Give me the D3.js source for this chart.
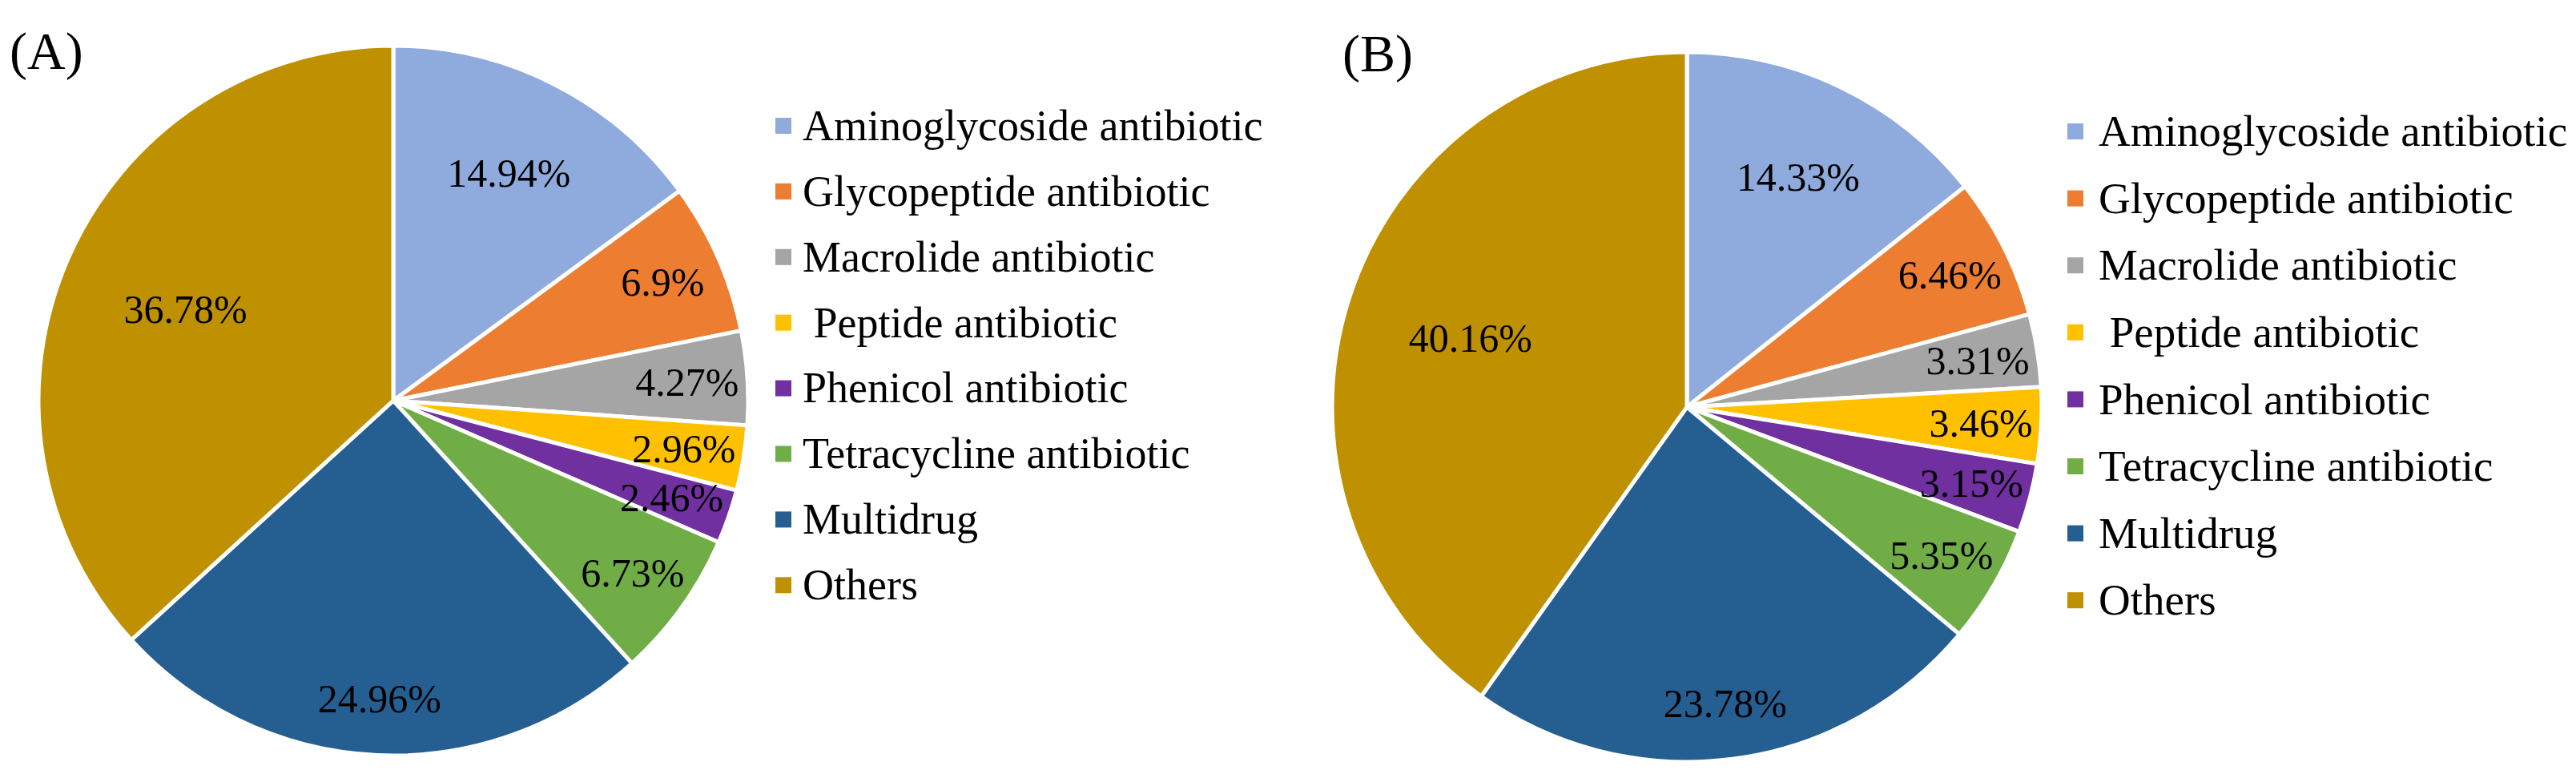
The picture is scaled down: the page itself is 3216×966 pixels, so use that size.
<!DOCTYPE html>
<html>
<head>
<meta charset="utf-8">
<script src="https://cdn.jsdelivr.net/npm/d3@7"></script>
<style>
  body { margin: 0; background: #fff; }
</style>
</head>
<body>
<div id="chart"></div>
<script>
// Categories (legend order = slice order, clockwise from 12 o'clock)
const categories = [
    "Aminoglycoside antibiotic",
    "Glycopeptide antibiotic",
    "Macrolide antibiotic",
    " Peptide antibiotic",
    "Phenicol antibiotic",
    "Tetracycline antibiotic",
    "Multidrug",
    "Others"
];

// Percentages for panel (A) and (B)
const valuesA = [14.94, 6.9, 4.27, 2.96, 2.46, 6.73, 24.96, 36.78];
const valuesB = [14.33, 6.46, 3.31, 3.46, 3.15, 5.35, 23.78, 40.16];

const panelTitles = ["(A)", "(B)"];

const colors = ["#8faadc", "#ed7d31", "#a5a5a5", "#ffc000", "#7030a0", "#70ad47", "#255e91", "#bf9000"];

const width = 3216, height = 966;
const serif = "'Liberation Serif', 'Times New Roman', serif";

const svg = d3.select("#chart")
    .append("svg")
    .attr("width", width)
    .attr("height", height);

svg.append("rect").attr("width", width).attr("height", height).attr("fill", "#fff");

const color = d3.scaleOrdinal().domain(categories).range(colors);

// layout per panel
const panels = [
    { values: valuesA, title: panelTitles[0], cx: 491, cy: 500, r: 443, titleX: 12, titleY: 86, legX: 968, legY: 157, legStep: 81.9, textX: 34 },
    { values: valuesB, title: panelTitles[1], cx: 2106, cy: 508, r: 443, titleX: 1676, titleY: 89, legX: 2581, legY: 164, legStep: 83.6, textX: 39 }
];

// Excel-like label placement: smaller slices get labels near the rim
function labelFactor(v) {
    if (v < 10) return 0.83;
    if (v < 20) return 0.72;
    if (v < 30) return 0.84;
    return 0.64;
}

const pie = d3.pie().sort(null).value(d => d.value);

panels.forEach(p => {
    const data = categories.map((c, i) => ({ cat: c, value: p.values[i] }));
    const arcs = pie(data);

    const g = svg.append("g").attr("transform", `translate(${p.cx},${p.cy})`);

    const arc = d3.arc().innerRadius(0).outerRadius(p.r);

    g.selectAll("path")
        .data(arcs)
        .enter().append("path")
        .attr("d", arc)
        .attr("fill", d => color(d.data.cat))
        .attr("stroke", "#fff")
        .attr("stroke-width", 5)
        .attr("stroke-linejoin", "round");

    g.selectAll("text.pct")
        .data(arcs)
        .enter().append("text")
        .attr("class", "pct")
        .attr("transform", d => {
            const lr = p.r * labelFactor(d.data.value);
            const c = d3.arc().innerRadius(lr).outerRadius(lr).centroid(d);
            return `translate(${c[0]},${c[1]})`;
        })
        .attr("text-anchor", "middle")
        .attr("dy", "0.35em")
        .attr("font-family", serif)
        .attr("font-size", 50)
        .attr("fill", "#000")
        .text(d => d.data.value + "%");

    svg.append("text")
        .attr("x", p.titleX)
        .attr("y", p.titleY)
        .attr("font-family", serif)
        .attr("font-size", 66)
        .attr("fill", "#000")
        .text(p.title);

    // legend
    const legendY = d3.scalePoint()
        .domain(categories)
        .range([p.legY, p.legY + p.legStep * (categories.length - 1)]);

    const item = svg.append("g").selectAll("g")
        .data(categories)
        .enter().append("g")
        .attr("transform", d => `translate(${p.legX},${legendY(d)})`);

    item.append("rect")
        .attr("x", 0)
        .attr("y", -10)
        .attr("width", 20)
        .attr("height", 20)
        .attr("fill", d => color(d));

    item.append("text")
        .attr("x", p.textX)
        .attr("dy", "0.33em")
        .attr("font-family", serif)
        .attr("font-size", p === panels[0] ? 54 : 55)
        .attr("fill", "#000")
        .style("white-space", "pre")
        .text(d => d);
});
</script>
</body>
</html>
